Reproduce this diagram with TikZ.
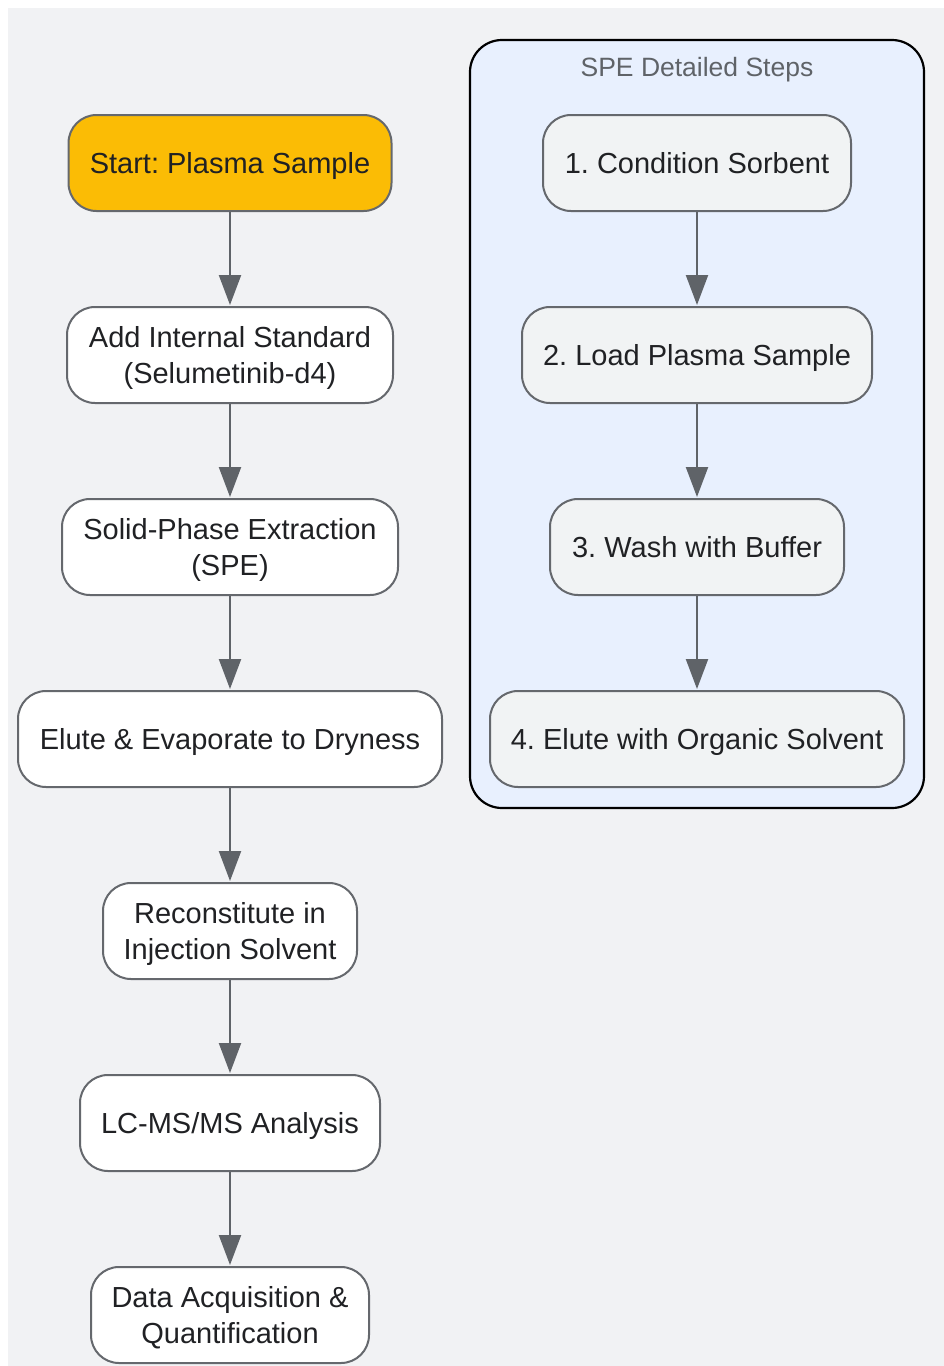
\documentclass[tikz,border=0pt]{standalone}
\usepackage{fontspec}
\setmainfont{Liberation Sans}
\frenchspacing
\usetikzlibrary{arrows.meta}
\definecolor{bggray}{HTML}{F1F2F4}
\definecolor{edgegray}{HTML}{5F6368}
\definecolor{boxline}{HTML}{65686D}
\definecolor{startfill}{HTML}{FBBC05}
\definecolor{clusterfill}{HTML}{E8F0FE}
\definecolor{stepfill}{HTML}{F1F3F4}
\definecolor{txt}{HTML}{202124}
\definecolor{titlegray}{HTML}{5F6368}
\newcommand{\boxlbl}[1]{\raisebox{-3pt}[\height][\depth]{\begin{tabular}{@{}c@{}}#1\end{tabular}}}
\tikzset{
  x=1pt, y=-1pt,
  flowbox/.style={draw=boxline, line width=2pt, rounded corners=28pt, fill=white,
    minimum height=96pt, inner sep=0pt, text=txt,
    font=\fontsize{29}{36}\selectfont},
  startbox/.style={flowbox, fill=startfill},
  stepbox/.style={flowbox, fill=stepfill},
  flow/.style={draw=edgegray, line width=2.2pt,
    -{Triangle[length=30pt, width=22pt]}, shorten >=1pt},
}
\begin{document}
\begin{tikzpicture}
\useasboundingbox (0,0) rectangle (944,1366);
\fill[bggray] (8,8) rectangle (944,1366);
% cluster
\draw[black, line width=2.2pt, fill=clusterfill, rounded corners=32pt] (470,40) rectangle (924,808);
\node[text=titlegray, font=\fontsize{26.5}{30}\selectfont] (ctitle) at (697,70) {SPE Detailed Steps};
% main flow
\node[startbox, minimum width=323pt] (start) at (230,163) {\boxlbl{Start: Plasma Sample}};
\node[flowbox, minimum width=326pt] (istd) at (230,355) {\boxlbl{Add Internal Standard\\(Selumetinib-d4)}};
\node[flowbox, minimum width=336pt] (spe) at (230,547) {\boxlbl{Solid-Phase Extraction\\(SPE)}};
\node[flowbox, minimum width=424pt] (evap) at (230,739) {\boxlbl{Elute \& Evaporate to Dryness}};
\node[flowbox, minimum width=254pt] (recon) at (230,931) {\boxlbl{Reconstitute in\\Injection Solvent}};
\node[flowbox, minimum width=300pt] (lcms) at (230,1123) {\boxlbl{LC-MS/MS Analysis}};
\node[flowbox, minimum width=278pt] (data) at (230,1315) {\boxlbl{Data Acquisition \&\\Quantification}};
% SPE steps
\node[stepbox, minimum width=308pt] (s1) at (697,163) {\boxlbl{1. Condition Sorbent}};
\node[stepbox, minimum width=350pt] (s2) at (697,355) {\boxlbl{2. Load Plasma Sample}};
\node[stepbox, minimum width=294pt] (s3) at (697,547) {\boxlbl{3. Wash with Buffer}};
\node[stepbox, minimum width=414pt] (s4) at (697,739) {\boxlbl{4. Elute with Organic Solvent}};
% edges
\draw[flow] (start) -- (istd);
\draw[flow] (istd) -- (spe);
\draw[flow] (spe) -- (evap);
\draw[flow] (evap) -- (recon);
\draw[flow] (recon) -- (lcms);
\draw[flow] (lcms) -- (data);
\draw[flow] (s1) -- (s2);
\draw[flow] (s2) -- (s3);
\draw[flow] (s3) -- (s4);
\end{tikzpicture}
\end{document}
